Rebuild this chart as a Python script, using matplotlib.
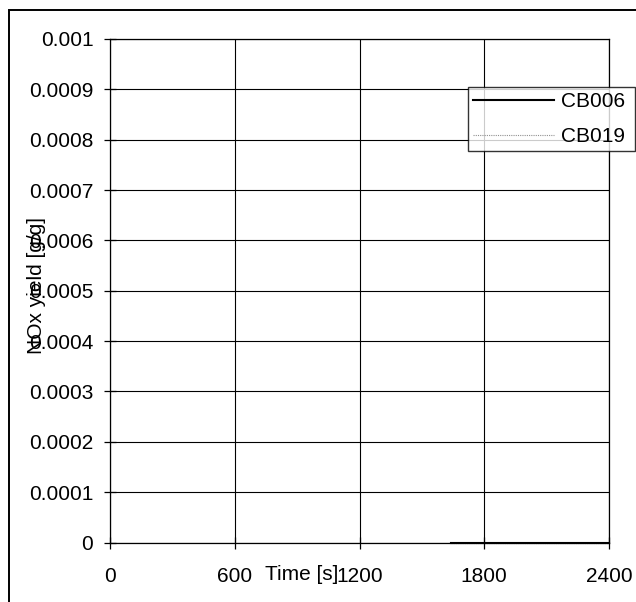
import matplotlib
matplotlib.use("Agg")
import matplotlib.pyplot as plt
from matplotlib.patches import Rectangle

plt.rcParams['font.family'] = ['Liberation Sans', 'DejaVu Sans']

# Data
time_cb006 = [1640, 1800, 2000, 2200, 2400]
nox_cb006 = [0.0, 0.0, 0.0, 0.0, 0.0]
time_cb019 = [1640, 2400]
nox_cb019 = [0.0, 0.0]
x_ticks = [0, 600, 1200, 1800, 2400]
y_ticks = [0, 0.0001, 0.0002, 0.0003, 0.0004, 0.0005, 0.0006, 0.0007, 0.0008, 0.0009, 0.001]
y_tick_labels = ['0', '0.0001', '0.0002', '0.0003', '0.0004', '0.0005',
                 '0.0006', '0.0007', '0.0008', '0.0009', '0.001']

W, H = 636, 602
fig = plt.figure(figsize=(W / 100, H / 100), dpi=100)

# outer chart frame (extends beyond right/bottom edge)
fig.patches.append(Rectangle((9 / W, -0.05), 1.1, (H - 10) / H + 0.05,
                             transform=fig.transFigure, fill=False,
                             edgecolor='#000000', lw=1.4))

L, R, T, B = 110, 609, 39, 542.5
ax = fig.add_axes([L / W, (H - B) / H, (R - L) / W, (B - T) / H])

ax.plot(time_cb006, nox_cb006, color='black', lw=1.5, label='CB006', zorder=3, clip_on=False)
ax.plot(time_cb019, nox_cb019, color='#909090', lw=0.8, ls=(0, (1, 1)), label='CB019', zorder=2, clip_on=False)

ax.set_xlim(0, 2400)
ax.set_ylim(0, 0.001)
ax.set_xticks(x_ticks)
ax.set_xticklabels([str(v) for v in x_ticks])
ax.set_yticks(y_ticks)
ax.set_yticklabels(y_tick_labels)
ax.grid(True, color='black', lw=0.8)
ax.set_axisbelow(True)
for s in ax.spines.values():
    s.set_color('black')
    s.set_linewidth(0.9)
ax.tick_params(axis='both', direction='inout', length=8, width=0.9, labelsize=15, colors='black')
ax.tick_params(axis='x', pad=14)
ax.tick_params(axis='y', pad=8)

fig.text(302 / W, 1 - 575 / H, 'Time [s]', ha='center', va='center', fontsize=15)
fig.text(36 / W, 1 - 285 / H, 'NOx yield [g/g]', ha='center', va='center', fontsize=15, rotation=90)

leg = ax.legend(loc='center left', bbox_to_anchor=(468 / W, 1 - 153 / H, (635 - 468) / W, (153 - 85) / H),
                bbox_transform=fig.transFigure, mode='expand', fontsize=15, frameon=True, fancybox=False,
                edgecolor='black', borderaxespad=0, borderpad=0.25, handlelength=3.9, handletextpad=0.3,
                labelspacing=0.75)
leg.get_frame().set_linewidth(1.0)
leg.set_zorder(5)

fig.savefig('out.png', dpi=100)
